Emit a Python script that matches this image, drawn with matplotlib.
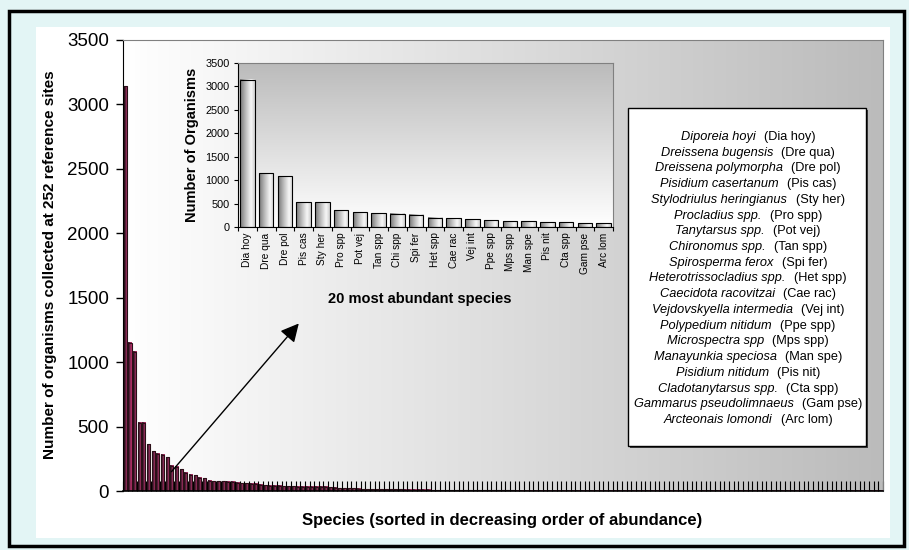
import numpy as np
import matplotlib
matplotlib.use('Agg')
import matplotlib.pyplot as plt
from matplotlib.patches import Rectangle
from matplotlib.colors import LinearSegmentedColormap
from matplotlib.offsetbox import TextArea, HPacker, AnnotationBbox

plt.rcParams['font.family'] = ['Liberation Sans', 'DejaVu Sans']

# 20 most abundant species (codes + counts)
top_codes = ['Dia hoy', 'Dre qua', 'Dre pol', 'Pis cas', 'Sty her', 'Pro spp', 'Pot vej',
             'Tan spp', 'Chi spp', 'Spi fer', 'Het spp', 'Cae rac', 'Vej int', 'Ppe spp',
             'Mps spp', 'Man spe', 'Pis nit', 'Cta spp', 'Gam pse', 'Arc lom']
top_counts = [3140, 1150, 1080, 530, 530, 362, 310, 290, 280, 262,
              195, 188, 168, 142, 128, 122, 104, 98, 80, 77]

# remaining species
tail_counts = [76, 74, 72, 70, 64, 62, 60, 58, 56, 48,
               46, 42, 40, 39, 38, 37, 35, 34, 34, 34,
               33, 33, 32, 32, 31, 24, 22, 21, 21, 20,
               18, 14, 13, 13, 13, 13, 12, 12, 12, 12,
               11, 11, 10, 10, 10, 9, 7, 6, 6, 6,
               5, 5, 5, 5, 5, 5, 5, 4, 4, 4,
               4, 4, 4, 4, 3, 3, 3, 3, 3, 3,
               3, 3, 3, 2, 2, 2, 2, 2, 2, 2,
               1, 1, 1, 1, 1, 1, 1, 1, 1, 1,
               1, 1, 1, 1, 1, 1, 1, 1, 1, 1,
               1, 1, 1, 1, 1, 1, 1, 1, 1, 1,
               1, 1, 1, 1, 1, 1, 1, 1, 1, 1,
               1, 1, 1, 1, 1, 1, 1, 1, 1, 1,
               1, 1, 1, 1, 1, 1, 1, 1, 1, 1,
               1, 1, 1]

legend_names = ['Diporeia hoyi', 'Dreissena bugensis', 'Dreissena polymorpha',
                'Pisidium casertanum', 'Stylodriulus heringianus', 'Procladius spp.',
                'Tanytarsus spp.', 'Chironomus spp.', 'Spirosperma ferox',
                'Heterotrissocladius spp.', 'Caecidota racovitzai', 'Vejdovskyella intermedia',
                'Polypedium nitidum', 'Microspectra spp', 'Manayunkia speciosa',
                'Pisidium nitidum', 'Cladotanytarsus spp.', 'Gammarus pseudolimnaeus',
                'Arcteonais lomondi']
legend_codes = ['(Dia hoy)', '(Dre qua)', '(Dre pol)', '(Pis cas)', '(Sty her)', '(Pro spp)',
                '(Pot vej)', '(Tan spp)', '(Spi fer)', '(Het spp)', '(Cae rac)', '(Vej int)',
                '(Ppe spp)', '(Mps spp)', '(Man spe)', '(Pis nit)', '(Cta spp)', '(Gam pse)',
                '(Arc lom)']

all_counts = top_counts + tail_counts

W, H = 909, 550
fig = plt.figure(figsize=(W / 100, H / 100), dpi=100)
fig.patch.set_facecolor('#e3f5f5')


def fig_rect(x0, y0, x1, y1, **kw):
    # pixel box measured from top-left -> Rectangle in figure fraction
    return Rectangle((x0 / W, 1 - y1 / H), (x1 - x0) / W, (y1 - y0) / H,
                     transform=fig.transFigure, **kw)


fig.add_artist(fig_rect(36, 27, 890, 538, facecolor='white', edgecolor='none', zorder=-1))
fig.add_artist(fig_rect(9, 11, 904, 546, fill=False, edgecolor='black', lw=2.5, zorder=5))

bar_cmap = LinearSegmentedColormap.from_list(
    'bar', [(0, '#3a1a28'), (0.45, '#5a2340'), (0.8, '#c4336f'), (1, '#a02a5c')])
gray_bar = LinearSegmentedColormap.from_list(
    'gbar', [(0, '#767676'), (0.45, '#c8c8c8'), (0.75, '#f7f7f7'), (1, '#cfcfcf')])
bg_cmap = LinearSegmentedColormap.from_list('bg', ['#ffffff', '#bbbbbb'])


def gradient_bars(ax, values, width, cmap, edge, lw):
    grad = np.linspace(0, 1, 64).reshape(1, -1)
    for i, v in enumerate(values):
        ax.imshow(grad, extent=(i - width / 2, i + width / 2, 0, v), cmap=cmap,
                  aspect='auto', zorder=1.5, interpolation='bilinear')
    ax.bar(range(len(values)), values, width=width, facecolor='none',
           edgecolor=edge, linewidth=lw, zorder=2)


#Main chart
ax = fig.add_axes([123 / W, 1 - 491 / H, 760 / W, 451 / H])
ax.set_facecolor('none')
ax.imshow(np.linspace(0, 1, 256).reshape(1, -1), extent=(0, 1, 0, 1), transform=ax.transAxes,
          cmap=bg_cmap, aspect='auto', zorder=0)
gradient_bars(ax, all_counts, 0.65, bar_cmap, '#2a1018', 0.8)
n = len(all_counts)
ax.set_xlim(-0.5, n - 0.5)
ax.set_ylim(0, 3500)
ax.set_yticks(np.arange(0, 3501, 500))
ax.set_xticks(np.arange(-0.5, n, 1))
ax.set_xticklabels([])
ax.tick_params(axis='x', direction='in', length=7, width=0.8, color='black')
ax.tick_params(axis='y', direction='out', length=5, width=1, labelsize=13.5, pad=5)
for s in ['top', 'right']:
    ax.spines[s].set_color('#808080')
ax.spines['bottom'].set_linewidth(1.2)
ax.annotate('', xy=(37.2, 1300), xytext=(9.9, 150),
            arrowprops=dict(arrowstyle='-|>,head_length=0.55,head_width=0.28', color='black',
                            lw=1, mutation_scale=20, shrinkA=0, shrinkB=0))

fig.text(50 / W, 1 - 265 / H, 'Number of organisms collected at 252 reference sites',
         rotation=90, ha='center', va='center', fontsize=11, fontweight='bold')
fig.text(502 / W, 1 - 520 / H, 'Species (sorted in decreasing order of abundance)',
         ha='center', va='center', fontsize=12, fontweight='bold')

#Inset chart
ax2 = fig.add_axes([238 / W, 1 - 227 / H, 375 / W, 164 / H])
ax2.set_facecolor('none')
ax2.imshow(np.linspace(0, 1, 256).reshape(-1, 1), extent=(0, 1, 0, 1), transform=ax2.transAxes,
           cmap=bg_cmap, aspect='auto', origin='lower', zorder=0)
gradient_bars(ax2, top_counts, 0.78, gray_bar, 'black', 0.8)
ax2.set_xlim(-0.5, len(top_counts) - 0.5)
ax2.set_ylim(0, 3500)
ax2.set_yticks(np.arange(0, 3501, 500))
ax2.set_xticks(np.arange(-0.5, len(top_counts), 1))
ax2.set_xticklabels([])
ax2.set_xticks(np.arange(len(top_counts)), minor=True)
ax2.set_xticklabels(top_codes, minor=True, rotation=90, fontsize=7.3)
ax2.tick_params(axis='x', which='major', direction='out', length=3, width=0.8)
ax2.tick_params(axis='x', which='minor', length=0, pad=4)
ax2.tick_params(axis='y', direction='out', length=3, width=0.8, labelsize=7.8, pad=3)
for s in ['top', 'right']:
    ax2.spines[s].set_color('#808080')

fig.text(192 / W, 1 - 145 / H, 'Number of Organisms', rotation=90, ha='center', va='center',
         fontsize=10.5, fontweight='bold')
fig.text(420 / W, 1 - 299 / H, '20 most abundant species', ha='center', va='center',
         fontsize=10.5, fontweight='bold')

#Legend box
fig.add_artist(fig_rect(630, 110, 868, 448, facecolor='#404040', edgecolor='none', zorder=2))
fig.add_artist(fig_rect(628, 108, 866, 446, facecolor='white', edgecolor='black', lw=1, zorder=3))
for k, (name, code) in enumerate(zip(legend_names, legend_codes)):
    line = HPacker(children=[TextArea(name, textprops=dict(fontsize=9.2, style='italic')),
                             TextArea(code, textprops=dict(fontsize=9.2))],
                   sep=6, pad=0, align='baseline')
    ab = AnnotationBbox(line, (748, H - (137 + k * 15.72)), xycoords='figure pixels',
                        frameon=False, box_alignment=(0.5, 0.5), pad=0, zorder=4)
    fig.add_artist(ab)

fig.savefig('out.png', dpi=100)
